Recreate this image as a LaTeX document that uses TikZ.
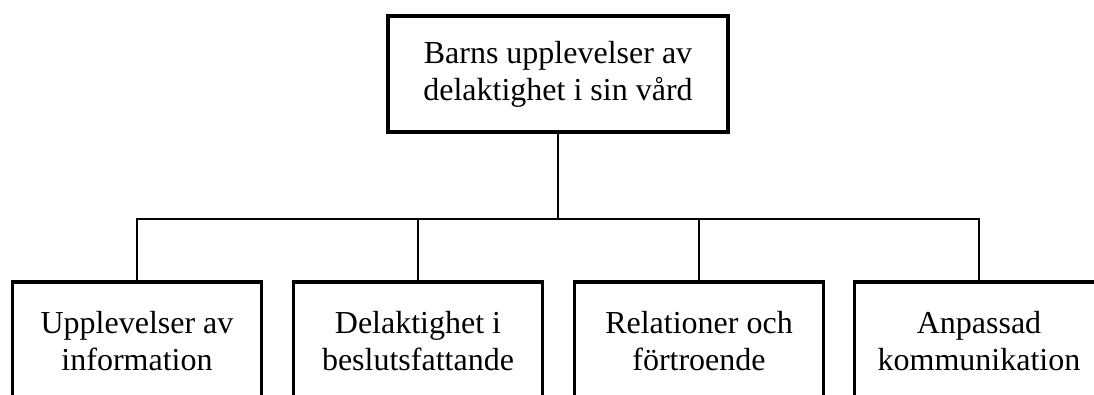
\documentclass[tikz,border=0pt]{standalone}
\usepackage{fontspec}
\setmainfont{Liberation Serif}
\usepackage{tikz}
\usetikzlibrary{positioning,calc}

\begin{document}
\begin{tikzpicture}[x=1pt,y=-1pt,
    tema/.style={draw,line width=3.2pt,minimum width=249pt,minimum height=118pt,
      align=center,inner sep=0pt,font=\fontsize{32}{37}\selectfont},
    huvud/.style={tema,minimum width=340pt,minimum height=116pt},
    gren/.style={line width=1.4pt}]
  \useasboundingbox (0,0) rectangle (1094,394);
  \clip (0,0) rectangle (1094,394);
  \node[huvud] (barn) at (558,74) {Barns upplevelser av\\delaktighet i sin vård};
  \coordinate (fork) at (558,219);
  \node[tema] (info) at (137,341) {Upplevelser av\\information};
  \node[tema] (beslut) at (418,341) {Delaktighet i\\beslutsfattande};
  \node[tema] (relation) at (699,341) {Relationer och\\förtroende};
  \node[tema] (komm) at (979,341) {Anpassad\\kommunikation};
  \draw[gren] (barn.south) -- (fork);
  \foreach \n in {info,beslut,relation,komm} {
    \draw[gren] (fork) -| (\n.north);
  }
\end{tikzpicture}
\end{document}
